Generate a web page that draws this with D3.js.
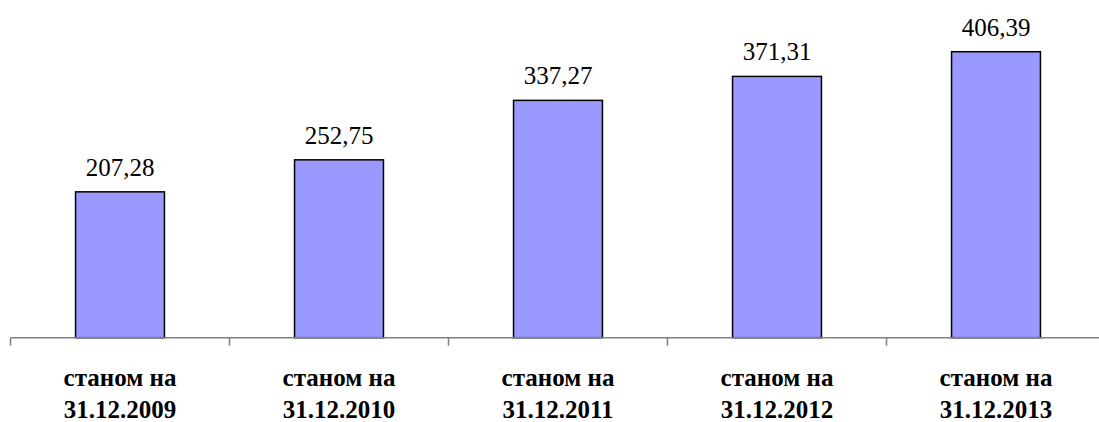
<!DOCTYPE html>
<html>
<head>
<meta charset="utf-8">
<script src="https://cdn.jsdelivr.net/npm/d3@7"></script>
<style>
  body { margin: 0; background: #fff; }
  svg { display: block; }
  svg text { font-family: "Liberation Serif", "DejaVu Serif", serif; }
</style>
</head>
<body>
<div id="barChart"></div>
<script>
// data
var categories = ["31.12.2009", "31.12.2010", "31.12.2011", "31.12.2012", "31.12.2013"];
var values = [207.28, 252.75, 337.27, 371.31, 406.39];
var valueLabels = ["207,28", "252,75", "337,27", "371,31", "406,39"];
var catPrefix = "станом на";

var width = 1099, height = 422;
var baseY = 337.7;

var svg = d3.select("div#barChart").append("svg")
  .attr("width", width)
  .attr("height", height);

var x = d3.scaleBand()
  .domain(categories)
  .range([10.5, 1105.5])
  .padding(0);

var y = d3.scaleLinear()
  .domain([0, 450])
  .range([baseY, baseY - 450 * 0.7037]);

var barW = x.bandwidth() * 0.406;

var data = categories.map(function (c, i) {
  return { cat: c, value: values[i], label: valueLabels[i] };
});

svg.append("g")
  .selectAll("rect")
  .data(data)
  .join("rect")
  .attr("x", d => x(d.cat) + (x.bandwidth() - barW) / 2)
  .attr("y", d => y(d.value))
  .attr("width", barW)
  .attr("height", d => baseY - y(d.value))
  .attr("fill", "#9999ff")
  .attr("stroke", "#000")
  .attr("stroke-width", 1.5);

// axis line + ticks between categories
var axis = svg.append("g").attr("stroke", "#808080").attr("stroke-width", 1.5);
axis.append("line")
  .attr("x1", x.range()[0]).attr("x2", width)
  .attr("y1", baseY).attr("y2", baseY);
axis.selectAll("line.tick")
  .data(categories)
  .join("line")
  .attr("class", "tick")
  .attr("x1", d => x(d)).attr("x2", d => x(d))
  .attr("y1", baseY).attr("y2", baseY + 8);

// value labels
svg.append("g")
  .selectAll("text")
  .data(data)
  .join("text")
  .attr("x", d => x(d.cat) + x.bandwidth() / 2)
  .attr("y", d => y(d.value) - 16)
  .attr("text-anchor", "middle")
  .attr("font-size", 25)
  .attr("fill", "#000")
  .text(d => d.label);

// category labels
var cat = svg.append("g")
  .attr("font-weight", "bold")
  .attr("font-size", 25)
  .attr("text-anchor", "middle")
  .selectAll("text")
  .data(categories)
  .join("text")
  .attr("x", d => x(d) + x.bandwidth() / 2);
cat.append("tspan").attr("x", d => x(d) + x.bandwidth() / 2).attr("y", 386).text(catPrefix);
cat.append("tspan").attr("x", d => x(d) + x.bandwidth() / 2).attr("y", 418).text(d => d);
</script>
</body>
</html>
